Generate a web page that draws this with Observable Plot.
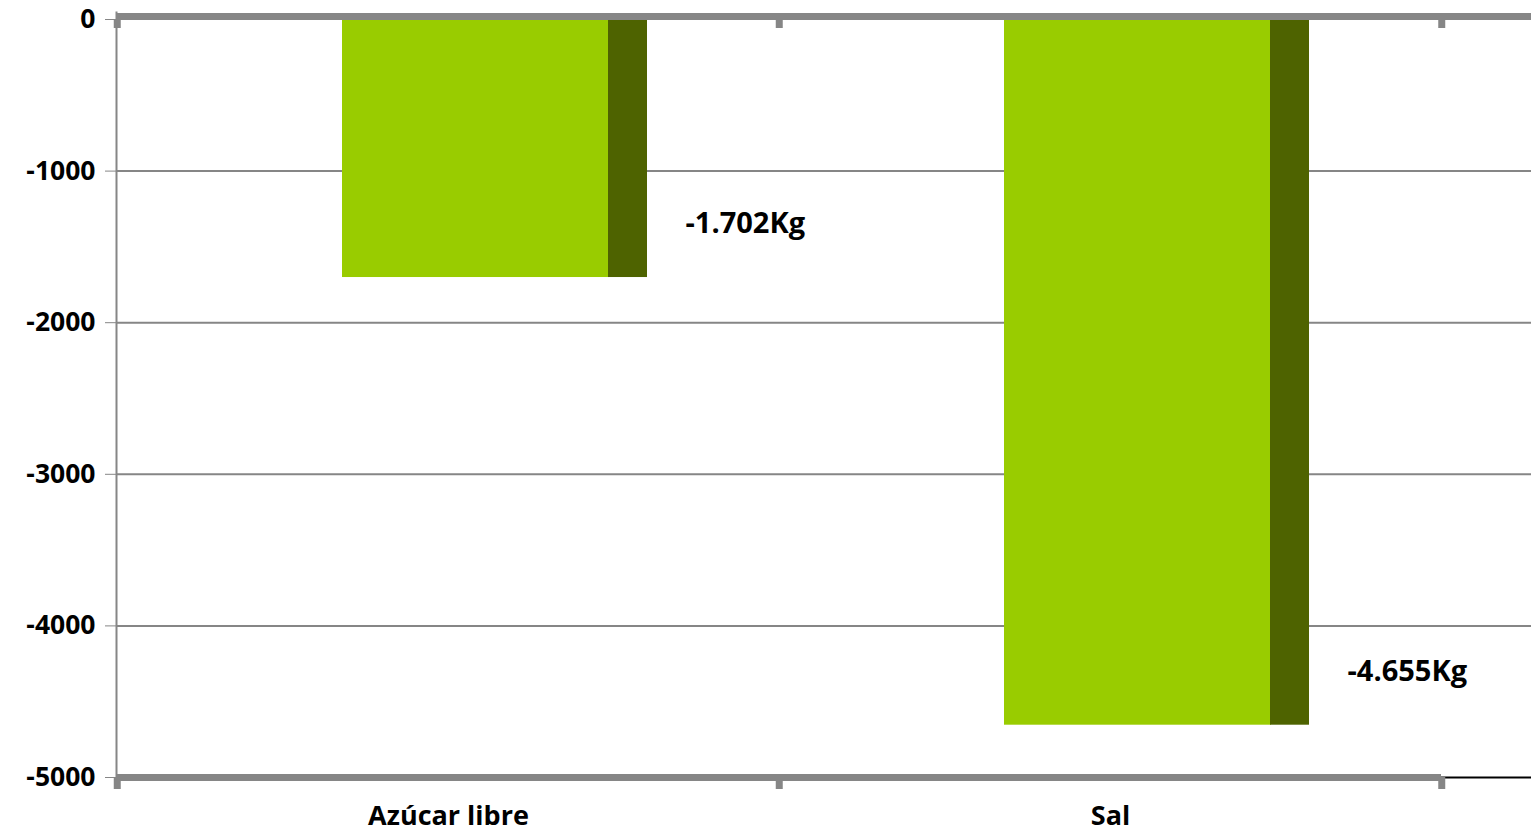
<!DOCTYPE html>
<html>
<head>
<meta charset="utf-8">
<script src="https://cdn.jsdelivr.net/npm/d3@7"></script>
<script src="https://cdn.jsdelivr.net/npm/@observablehq/plot@0.6"></script>
<style>
  html, body { margin: 0; padding: 0; background: #ffffff; }
  #chart svg { display: block; font-family: "Open Sans", sans-serif; }
  #chart [aria-label="y-axis tick"] { stroke: #868686; }
</style>
</head>
<body>
<div id="chart"></div>
<script>
// Reduction in intake (grams) per product
const categories = ["Azúcar libre", "Sal"];
const values = [-1702, -4655];
const yTicks = [0, -1000, -2000, -3000, -4000, -5000];
const gridValues = [-1000, -2000, -3000, -4000];

// "-1.702Kg" style: dot as thousands separator
const kgLabel = v => (v < 0 ? "-" : "") + d3.format(",")(Math.abs(v)).replace(/,/g, ".") + "Kg";

const data = categories.map((c, i) => ({cat: c, value: values[i], label: kgLabel(values[i])}));

const W = 1531, H = 833;
const left = 116, plotRight = 1441;
const band = (plotRight - left) / categories.length;
const grey = "#868686";

const chart = Plot.plot({
  width: W,
  height: H,
  marginLeft: left,
  marginRight: 0,
  marginTop: 19,
  marginBottom: 56,
  style: {fontFamily: "Open Sans, sans-serif", background: "#ffffff"},
  x: {domain: categories, range: [left, plotRight], padding: 0, axis: null},
  y: {domain: [-5000, 0], axis: null},
  marks: [
    // horizontal gridlines
    Plot.ruleY(gridValues, {stroke: grey, strokeWidth: 2}),
    // thin extension of the floor line
    Plot.ruleY([-5000], {stroke: "#000000", strokeWidth: 2}),
    // bar fronts
    Plot.barY(data, {x: "cat", y: "value", fill: "#99cc00", insetLeft: 225, insetRight: 170}),
    // bar sides (depth)
    Plot.barY(data, {x: "cat", y: "value", fill: "#4e6300", insetLeft: 491, insetRight: 132}),
    // left wall line
    Plot.frame({anchor: "left", stroke: grey, strokeWidth: 2, insetTop: -7}),
    // ceiling line at zero
    Plot.ruleY([0], {stroke: grey, strokeWidth: 7, dy: -3}),
    // floor line across the categories
    Plot.ruleY([-5000], {x1: () => categories[0], x2: () => categories[categories.length - 1], stroke: grey, strokeWidth: 7}),
    // category boundary ticks, bottom (outward) and top (inward)
    Plot.ruleX(categories, {x: d => d, y1: -5000, y2: -5000, dx: -band / 2, insetBottom: -12, stroke: grey, strokeWidth: 7}),
    Plot.ruleX(categories.slice(-1), {x: d => d, y1: -5000, y2: -5000, dx: band / 2, insetBottom: -12, stroke: grey, strokeWidth: 7}),
    Plot.ruleX(categories, {x: d => d, y1: 0, y2: 0, dx: -band / 2, insetBottom: -9, stroke: grey, strokeWidth: 7}),
    Plot.ruleX(categories.slice(-1), {x: d => d, y1: 0, y2: 0, dx: band / 2, insetBottom: -9, stroke: grey, strokeWidth: 7}),
    // y axis
    Plot.axisY(yTicks, {
      tickSize: 11, tickPadding: 10, fontSize: 26.5, fontWeight: "bold", fill: "#000000",
      tickFormat: d => String(d), label: null
    }),
    // x axis labels
    Plot.axisX({tickSize: 0, tickPadding: 28, fontSize: 27, fontWeight: "bold", fill: "#000000", label: null}),
    // value labels
    Plot.text(data, {x: "cat", y: "value", text: "label", textAnchor: "start", dx: 237, dy: -53.5,
      fontSize: 29, fontWeight: "bold", fill: "#000000"})
  ]
});

document.getElementById("chart").append(chart);
</script>
</body>
</html>
